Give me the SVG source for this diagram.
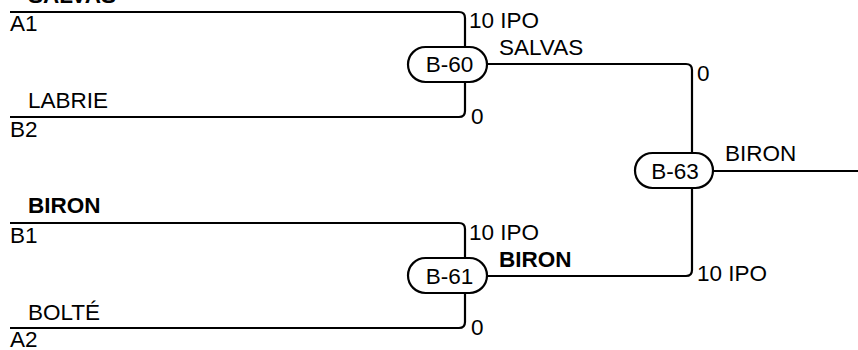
<svg xmlns="http://www.w3.org/2000/svg" width="858" height="350" viewBox="0 0 858 350">
<style>
.ln{fill:none;stroke:#000;stroke-width:2.2}
.pill{fill:#fff;stroke:#000;stroke-width:2.2}
text{font-family:"Liberation Sans",Arial,sans-serif;font-size:22.5px;fill:#000}
.b{font-weight:bold}
.c{text-anchor:middle}
</style>
<rect width="858" height="350" fill="#fff"/>
<g id="connectors">
<path class="ln" d="M10,12 H459 Q465,12 465,18 V47"/>
<path class="ln" d="M10,117 H459 Q465,117 465,111 V82"/>
<path class="ln" d="M487,64 H686 Q692,64 692,70 V153"/>
<path class="ln" d="M10,223 H459 Q465,223 465,229 V258"/>
<path class="ln" d="M10,328 H459 Q465,328 465,322 V293"/>
<path class="ln" d="M487,276 H686 Q692,276 692,270 V188"/>
<path class="ln" d="M713,171 H858"/>
</g>
<g id="labels">
<text class="b" x="28" y="3">SALVAS</text>
<text x="10" y="31">A1</text>
<text x="28" y="108">LABRIE</text>
<text x="10" y="137">B2</text>
<text x="469" y="28">10 IPO</text>
<text x="499" y="55">SALVAS</text>
<text x="471" y="124">0</text>
<text x="697" y="81">0</text>
<text x="725" y="161">BIRON</text>
<text class="b" x="28" y="213">BIRON</text>
<text x="10" y="243">B1</text>
<text x="28" y="320">BOLTÉ</text>
<text x="10" y="347">A2</text>
<text x="469" y="240">10 IPO</text>
<text class="b" x="499" y="267">BIRON</text>
<text x="471" y="335">0</text>
<text x="697" y="281">10 IPO</text>
</g>
<g id="B-60">
<rect class="pill" x="408" y="47" width="79" height="35" rx="17.5"/>
<text class="c" x="449.5" y="72">B-60</text>
</g>
<g id="B-61">
<rect class="pill" x="408" y="258" width="79" height="35" rx="17.5"/>
<text class="c" x="449.5" y="284">B-61</text>
</g>
<g id="B-63">
<rect class="pill" x="635" y="153" width="78" height="35" rx="17.5"/>
<text class="c" x="675" y="179">B-63</text>
</g>
</svg>
